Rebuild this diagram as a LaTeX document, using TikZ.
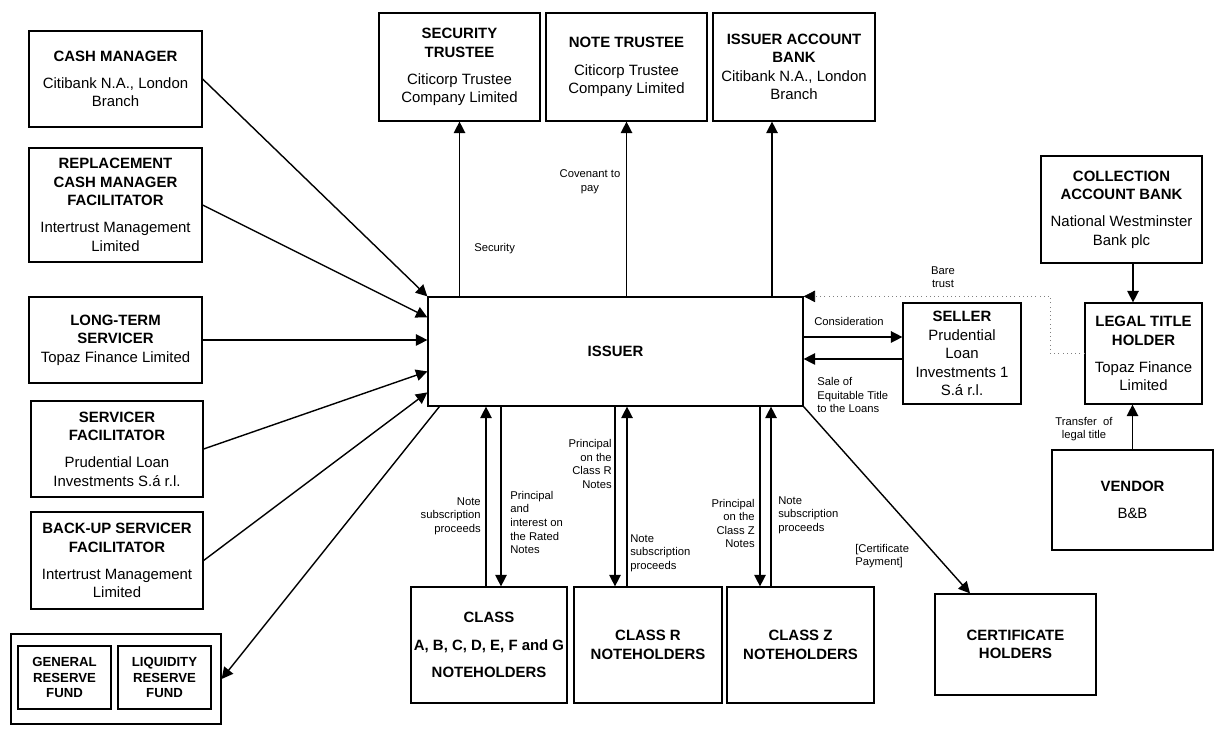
\documentclass[tikz,border=0pt]{standalone}
\usepackage{fontspec}
\setmainfont{Liberation Sans}
\usetikzlibrary{arrows.meta}

\tikzset{
  box/.style={draw, line width=0.7pt, align=center, inner sep=0pt,
    font=\fontsize{8.5}{10.5}\selectfont},
  fundbox/.style={box, font=\fontsize{7.5}{9}\selectfont\bfseries,
    minimum width=1.86cm, minimum height=1.26cm},
  lbl/.style={inner sep=0pt, font=\fontsize{6.4}{7.7}\selectfont},
  arr/.style={line width=0.8pt, -{Triangle[length=6.5pt,width=6.5pt]}},
  dotarr/.style={gray, line width=0.4pt, dotted,
    -{Triangle[length=6.5pt,width=6.5pt,color=black]}}
}

\begin{document}
\begin{tikzpicture}
  \useasboundingbox (0.00, 0.00) rectangle (24.30, -14.62);

  % left column
  \node[box, minimum width=3.46cm, minimum height=1.92cm] (cashmgr) at (2.31, -1.58)
    {\textbf{CASH MANAGER}\\[5pt]Citibank N.A., London\\Branch};
  \node[box, minimum width=3.46cm, minimum height=2.28cm] (replmgr) at (2.31, -4.10)
    {\textbf{REPLACEMENT}\\\textbf{CASH MANAGER}\\\textbf{FACILITATOR}\\[5pt]Intertrust Management\\Limited};
  \node[box, minimum width=3.46cm, minimum height=1.72cm] (ltserv) at (2.31, -6.80)
    {\textbf{LONG-TERM}\\\textbf{SERVICER}\\Topaz Finance Limited};
  \node[box, minimum width=3.44cm, minimum height=1.92cm] (servfac) at (2.34, -8.98)
    {\textbf{SERVICER}\\\textbf{FACILITATOR}\\[5pt]Prudential Loan\\Investments S.á r.l.};
  \node[box, minimum width=3.44cm, minimum height=1.94cm] (backup) at (2.34, -11.21)
    {\textbf{BACK-UP SERVICER}\\\textbf{FACILITATOR}\\[5pt]Intertrust Management\\Limited};
  \node[draw, line width=0.7pt, minimum width=4.20cm, minimum height=1.80cm] (reserve) at (2.32, -13.58) {};
  \node[fundbox] (genfund) at (1.29, -13.55) {GENERAL\\RESERVE\\FUND};
  \node[fundbox] (liqfund) at (3.29, -13.55) {LIQUIDITY\\RESERVE\\FUND};

  % top row
  \node[box, minimum width=3.22cm, minimum height=2.16cm] (sectrust) at (9.19, -1.34)
    {\textbf{SECURITY}\\\textbf{TRUSTEE}\\[5pt]Citicorp Trustee\\Company Limited};
  \node[box, minimum width=3.22cm, minimum height=2.16cm] (notetrust) at (12.53, -1.34)
    {\textbf{NOTE TRUSTEE}\\[5pt]Citicorp Trustee\\Company Limited};
  \node[box, minimum width=3.24cm, minimum height=2.16cm] (acctbank) at (15.88, -1.34)
    {\textbf{ISSUER ACCOUNT}\\\textbf{BANK}\\Citibank N.A., London\\Branch};

  % centre and right
  \node[box, minimum width=7.50cm, minimum height=2.18cm] (issuer) at (12.31, -7.03) {\textbf{ISSUER}};
  \node[box, minimum width=2.36cm, minimum height=2.02cm] (seller) at (19.24, -7.07)
    {\textbf{SELLER}\\Prudential\\Loan\\Investments 1\\S.á r.l.};
  \node[box, minimum width=3.22cm, minimum height=2.14cm] (collbank) at (22.43, -4.19)
    {\textbf{COLLECTION}\\\textbf{ACCOUNT BANK}\\[5pt]National Westminster\\Bank plc};
  \node[box, minimum width=2.34cm, minimum height=2.02cm] (lth) at (22.87, -7.07)
    {\textbf{LEGAL TITLE}\\\textbf{HOLDER}\\[5pt]Topaz Finance\\Limited};
  \node[box, minimum width=3.22cm, minimum height=2.00cm] (vendor) at (22.65, -10.00)
    {\textbf{VENDOR}\\[5pt]B\&B};

  % bottom row
  \node[box, minimum width=3.12cm, minimum height=2.32cm] (classa) at (9.78, -12.90)
    {\textbf{CLASS}\\[5pt]\textbf{A, B, C, D, E, F and G}\\[5pt]\textbf{NOTEHOLDERS}};
  \node[box, minimum width=2.96cm, minimum height=2.32cm] (classr) at (12.96, -12.90)
    {\textbf{CLASS R}\\\textbf{NOTEHOLDERS}};
  \node[box, minimum width=2.94cm, minimum height=2.32cm] (classz) at (16.01, -12.90)
    {\textbf{CLASS Z}\\\textbf{NOTEHOLDERS}};
  \node[box, minimum width=3.22cm, minimum height=2.02cm] (certhold) at (20.31, -12.89)
    {\textbf{CERTIFICATE}\\\textbf{HOLDERS}};

  % left arrows
  \draw[arr] (cashmgr.east) -- (issuer.north west);
  \draw[arr] (replmgr.east) -- ([yshift=-0.42cm]issuer.north west);
  \draw[arr] (ltserv.east) -- (ltserv.east -| issuer.west);
  \draw[arr] (servfac.east) -- ([yshift=-1.50cm]issuer.north west);
  \draw[arr] (backup.east) -- ([yshift=-1.92cm]issuer.north west);
  \draw[arr] ([xshift=0.24cm]issuer.south west) -- (reserve.east);

  % top arrows
  \coordinate (bankfoot) at ([xshift=-0.44cm]acctbank.south);
  \draw[arr] (sectrust.south |- issuer.north) -- (sectrust.south);
  \draw[arr] (notetrust.south |- issuer.north) -- (notetrust.south);
  \draw[arr] (bankfoot |- issuer.north) -- (bankfoot);
  \node[lbl, anchor=west] (seclbl) at (9.48, -4.98) {Security};
  \node[lbl, align=center] (covlbl) at (11.80, -3.64) {Covenant to\\pay};

  % seller and title holder
  \coordinate (considpt) at ([yshift=0.33cm]seller.west);
  \coordinate (salept) at ([yshift=-0.11cm]seller.west);
  \coordinate (collfoot) at ([xshift=0.23cm]collbank.south);
  \draw[arr] (considpt -| issuer.east) -- (considpt);
  \draw[arr] (salept) -- (salept -| issuer.east);
  \draw[dotarr] (lth.west) -- ++(-0.68, 0) |- (issuer.north east);
  \draw[arr] (collfoot) -- (collfoot |- lth.north);
  \draw[arr] (vendor.north) -- (vendor.north |- lth.south);
  \node[lbl] (conslbl) at (16.98, -6.42) {Consideration};
  \node[lbl, anchor=west, align=left] (salelbl) at (16.34, -7.90) {Sale of\\Equitable Title\\to the Loans};
  \node[lbl, align=center] (barelbl) at (18.86, -5.54) {Bare\\trust};
  \node[lbl, align=center] (translbl) at (21.68, -8.58) {Transfer~ of\\legal title};

  % bottom arrows
  \coordinate (aup) at ([xshift=-0.06cm]classa.north);
  \coordinate (adown) at ([xshift=0.24cm]classa.north);
  \coordinate (rdown) at ([xshift=-0.66cm]classr.north);
  \coordinate (rup) at ([xshift=-0.42cm]classr.north);
  \coordinate (zdown) at ([xshift=-0.81cm]classz.north);
  \coordinate (zup) at ([xshift=-0.59cm]classz.north);
  \draw[arr] (aup) -- (aup |- issuer.south);
  \draw[arr] (adown |- issuer.south) -- (adown);
  \draw[arr] (rdown |- issuer.south) -- (rdown);
  \draw[arr] (rup) -- (rup |- issuer.south);
  \draw[arr] (zdown |- issuer.south) -- (zdown);
  \draw[arr] (zup) -- (zup |- issuer.south);
  \draw[arr] (issuer.south east) -- ([xshift=-0.91cm]certhold.north);
  \node[lbl, anchor=east, align=right] (asublbl) at (9.62, -10.32) {Note\\subscription\\proceeds};
  \node[lbl, anchor=west, align=left] (aprinlbl) at (10.20, -10.45) {Principal\\and\\interest on\\the Rated\\Notes};
  \node[lbl, anchor=east, align=right] (rprinlbl) at (12.24, -9.28) {Principal\\on the\\Class R\\Notes};
  \node[lbl, anchor=west, align=left] (rsublbl) at (12.60, -11.06) {Note\\subscription\\proceeds};
  \node[lbl, anchor=east, align=right] (zprinlbl) at (15.10, -10.47) {Principal\\on the\\Class Z\\Notes};
  \node[lbl, anchor=west, align=left] (zsublbl) at (15.56, -10.30) {Note\\subscription\\proceeds};
  \node[lbl, anchor=west, align=left] (certlbl) at (17.10, -11.12) {[Certificate\\Payment]};
\end{tikzpicture}
\end{document}
